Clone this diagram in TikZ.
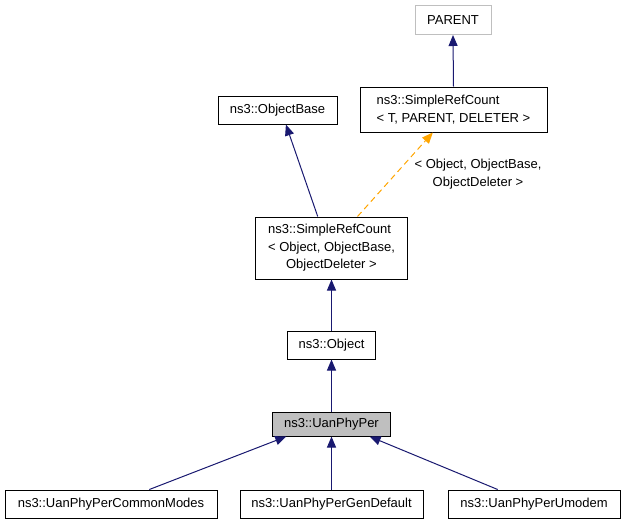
\documentclass[tikz,border=0pt]{standalone}
\usepackage{fontspec}
\setmainfont{Liberation Sans}
\usetikzlibrary{arrows.meta,calc}
\definecolor{navyedge}{HTML}{191970}
\definecolor{orangeedge}{HTML}{FFA500}
\definecolor{grayfill}{HTML}{BFBFBF}
\begin{document}
\begin{tikzpicture}[x=1pt,y=-1pt,
  box/.style={draw=black,line width=1pt,rectangle,inner sep=0pt,font=\fontsize{13}{17.5}\selectfont,text=black},
  ghost/.style={box,draw=grayfill},
  inh/.style={draw=navyedge,line width=1pt,-{Triangle[length=11pt,width=9pt]}},
  tmpl/.style={draw=orangeedge,line width=1pt,dash pattern=on 6pt off 4pt,-{Triangle[length=11pt,width=9pt]}},
  elabel/.style={font=\fontsize{13}{17.5}\selectfont,align=center,inner sep=0pt}]
\useasboundingbox (0,0) rectangle (624,525);
\node[ghost,minimum width=76pt,minimum height=29pt] (parent) at (453,20) {PARENT};
\node[box,minimum width=187pt,minimum height=45pt,align=left] (srct) at (453.5,109.5) {ns3::SimpleRefCount\\< T, PARENT, DELETER >};
\node[box,minimum width=119pt,minimum height=28pt] (objbase) at (277.5,110) {ns3::ObjectBase};
\node[box,minimum width=152pt,minimum height=62pt,align=left] (srco) at (331.5,248) {ns3::SimpleRefCount\\< Object, ObjectBase,\\\hspace*{18pt}ObjectDeleter >};
\node[box,minimum width=88pt,minimum height=28pt] (object) at (331.5,345) {ns3::Object};
\node[box,fill=grayfill,minimum width=118pt,minimum height=24pt] (uan) at (331.5,424) {ns3::UanPhyPer};
\node[box,minimum width=212pt,minimum height=28pt] (cm) at (111,504) {ns3::UanPhyPerCommonModes};
\node[box,minimum width=183pt,minimum height=28pt] (gd) at (331.5,504) {ns3::UanPhyPerGenDefault};
\node[box,minimum width=172pt,minimum height=28pt] (um) at (534,504) {ns3::UanPhyPerUmodem};
\node[elabel] (tlabel) at (478,174) {< Object, ObjectBase,\\ObjectDeleter >};
\draw[inh] (srct.north) -- (parent.south);
\draw[inh] ($(srco.north west)!0.41!(srco.north east)$) -- ($(objbase.south west)!0.57!(objbase.south east)$);
\draw[tmpl] ($(srco.north west)!0.67!(srco.north east)$) -- ($(srct.south west)!0.39!(srct.south east)$);
\draw[inh] (object.north) -- (srco.south);
\draw[inh] (uan.north) -- (object.south);
\draw[inh] ($(cm.north west)!0.68!(cm.north east)$) -- ($(uan.south west)!0.12!(uan.south east)$);
\draw[inh] (gd.north) -- (uan.south);
\draw[inh] ($(um.north west)!0.29!(um.north east)$) -- ($(uan.south west)!0.82!(uan.south east)$);
\end{tikzpicture}
\end{document}
